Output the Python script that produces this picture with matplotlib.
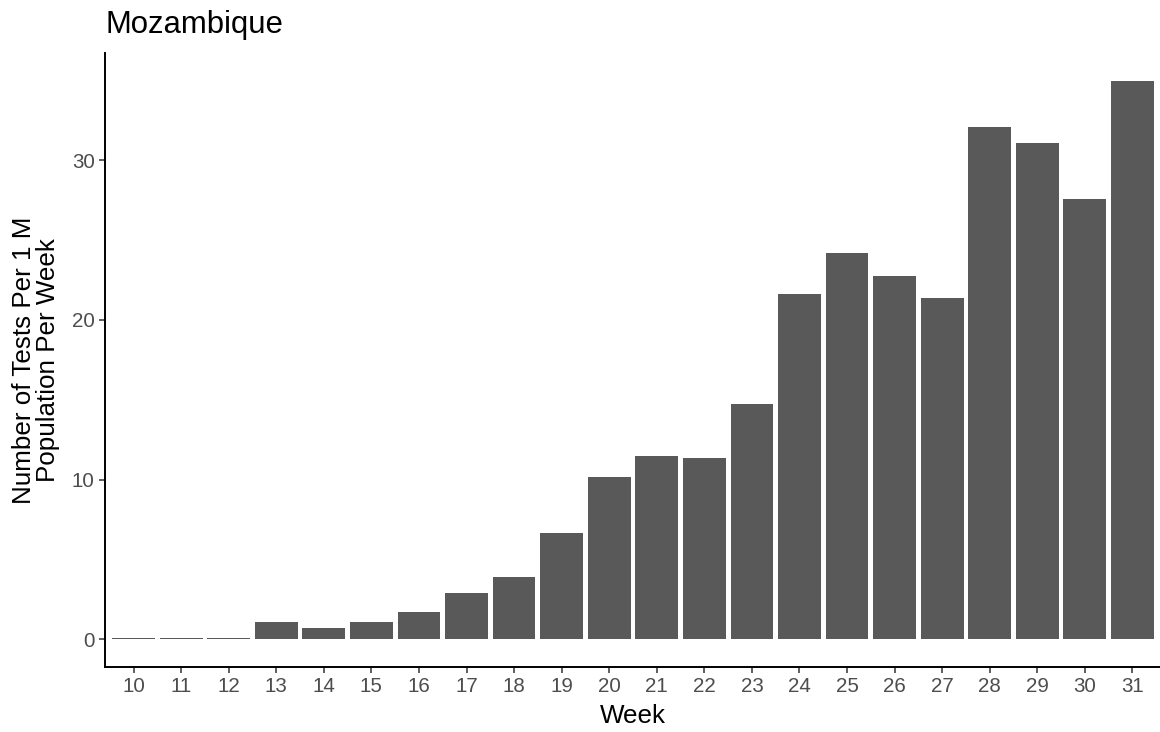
import matplotlib
matplotlib.use("Agg")
import matplotlib.pyplot as plt
import numpy as np

weeks = ["10", "11", "12", "13", "14", "15", "16", "17", "18", "19", "20",
         "21", "22", "23", "24", "25", "26", "27", "28", "29", "30", "31"]
tests_per_million = [0.04, 0.04, 0.04, 1.06, 0.67, 1.06, 1.69, 2.88, 3.86, 6.67, 10.17,
                     11.48, 11.36, 14.73, 21.60, 24.17, 22.73, 21.35, 32.10, 31.10, 27.60, 34.98]
y_ticks = [0, 10, 20, 30]
title = "Mozambique"
x_label = "Week"
y_label = "Number of Tests Per 1 M\nPopulation Per Week"

plt.rcParams['font.family'] = ['Liberation Sans', 'DejaVu Sans']

W, H = 1160, 732
fig = plt.figure(figsize=(W / 100, H / 100), dpi=100)
ax = fig.add_axes([105 / W, (H - 667) / H, (1161 - 105) / W, (667 - 53) / H])

pos = np.arange(len(weeks))
ax.bar(pos, tests_per_million, width=0.9, color="#595959", linewidth=0)

ymax = max(tests_per_million)
ax.set_ylim(-0.05 * ymax, ymax * 1.05)
ax.set_xlim(-0.6, len(weeks) - 1 + 0.6)
ax.set_xticks(pos)
ax.set_xticklabels(weeks)
ax.set_yticks(y_ticks)

for s in ["top", "right"]:
    ax.spines[s].set_visible(False)
for s in ["left", "bottom"]:
    ax.spines[s].set_linewidth(1.4)
    ax.spines[s].set_color("black")

ax.tick_params(axis="both", length=4.5, width=1.1, color="#333333",
               labelcolor="#4D4D4D", labelsize=14.8, pad=3)

ax.set_ylabel(y_label, fontsize=18.7, color="black", linespacing=0.98)
ax.yaxis.set_label_coords(-0.043, 0.5)

fig.text((105 + 1161) / 2 / W, (H - 723) / H, x_label, fontsize=18.7,
         ha="center", va="baseline", color="black")
fig.text(106 / W, (H - 33) / H, title, fontsize=22.4, ha="left",
         va="baseline", color="black")

fig.savefig("out.png", dpi=100)
